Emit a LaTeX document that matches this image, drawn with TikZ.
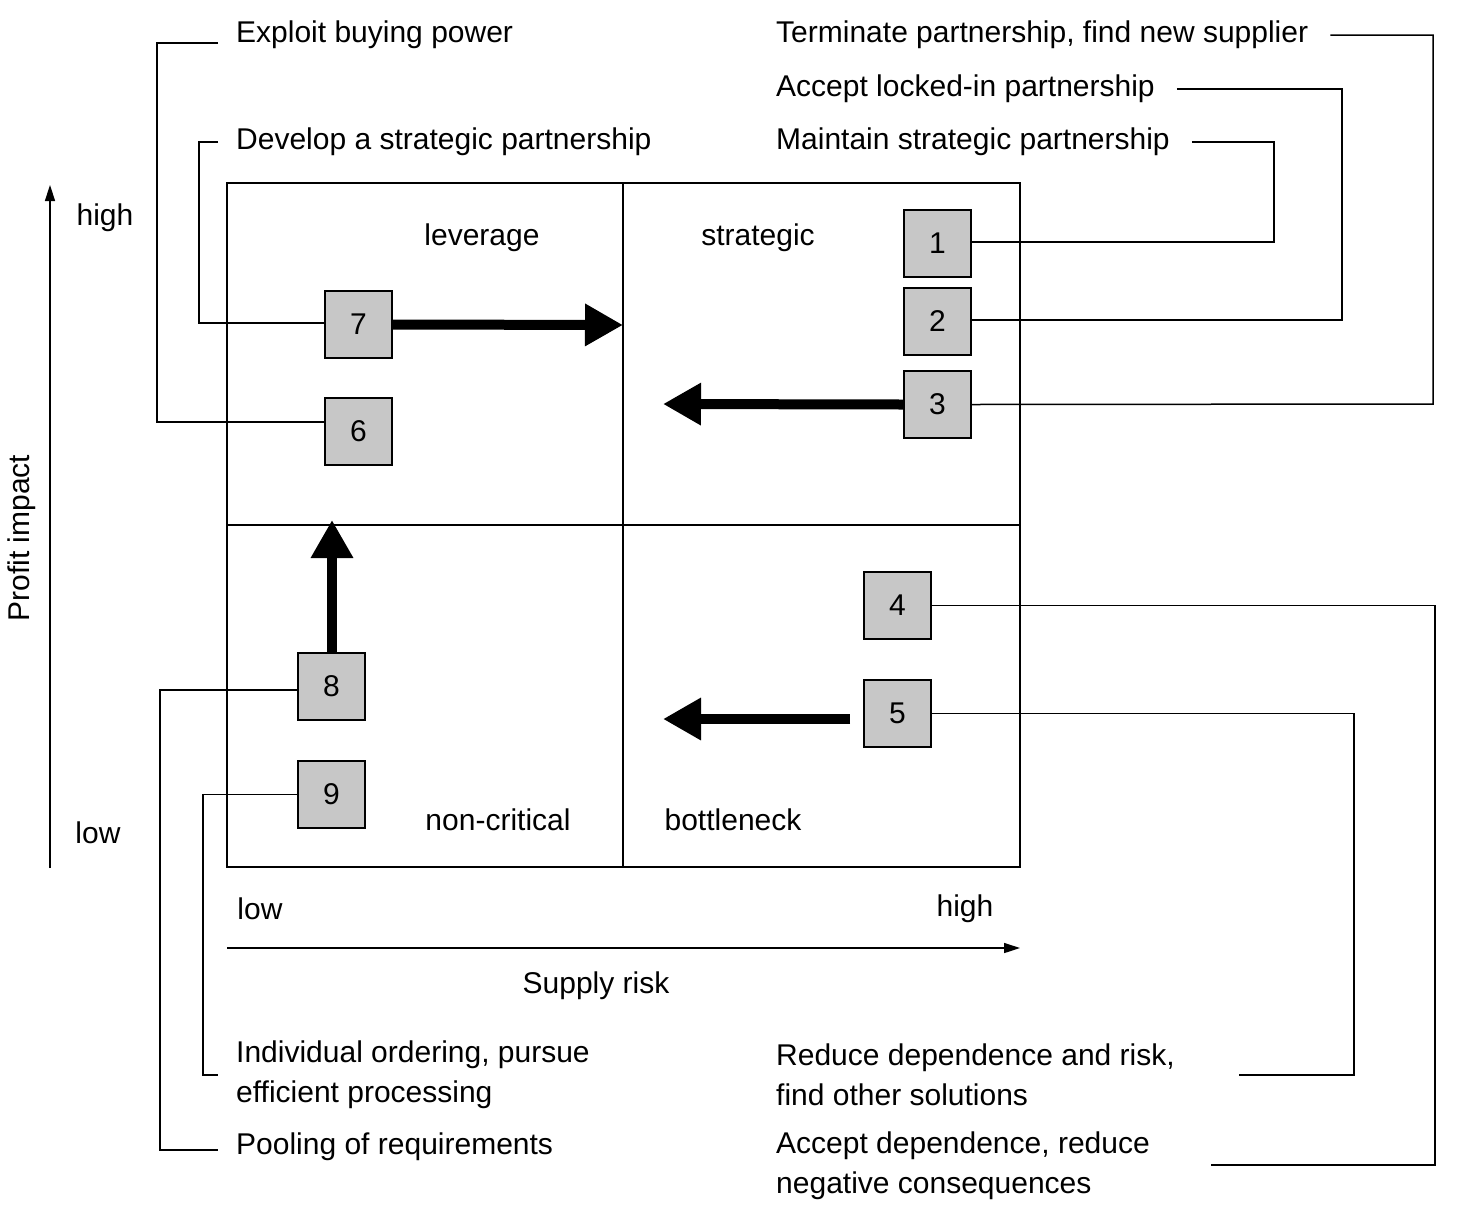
\documentclass[tikz,border=0pt]{standalone}
\usepackage{fontspec}
\setmainfont{Liberation Sans}
\usetikzlibrary{arrows.meta}
\begin{document}
\begin{tikzpicture}[x=1pt,y=-1pt,
  every node/.style={font=\fontsize{30}{40}\selectfont,inner sep=0pt},
  thin line/.style={line width=1.5pt},
  numbox/.style={draw,line width=1.5pt,fill=black!22,minimum width=67pt,minimum height=67pt,text depth=-14pt},
  bigarrow/.style={line width=10pt,-{Triangle[length=38pt,width=40pt]}},
  lbl/.style={anchor=west,align=left}]
\useasboundingbox (0,0) rectangle (1463,1208);
% grid
\draw[thin line] (227,183) rectangle (1020,867);
\draw[thin line] (623,183) -- (623,867);
\draw[thin line] (227,525) -- (1020,525);
% boxes
\node[numbox] (b1) at (937.5,243.5) {1};
\node[numbox] (b2) at (937.5,321.5) {2};
\node[numbox] (b3) at (937.5,404.5) {3};
\node[numbox] (b7) at (358.5,324.5) {7};
\node[numbox] (b6) at (358.5,431.5) {6};
\node[numbox] (b4) at (897.5,605.5) {4};
\node[numbox] (b5) at (897.5,713.5) {5};
\node[numbox] (b8) at (331.5,686.5) {8};
\node[numbox] (b9) at (331.5,794.5) {9};
% quadrant labels
\node (lev) at (482,238) {leverage};
\node (str) at (758,238) {strategic};
\node (nc) at (498,820) {non-critical};
\node (bn) at (733,820) {bottleneck};
% axes
\coordinate (ya) at (50,868); \coordinate (yb) at (50,185);
\draw[thin line,-{Triangle[length=16pt,width=10pt]}] (ya) -- (yb);
\coordinate (xa) at (227,948); \coordinate (xb) at (1020,948);
\draw[thin line,-{Triangle[length=16pt,width=10pt]}] (xa) -- (xb);
\node (yh) at (105,218) {high};
\node (yl) at (98,833) {low};
\node (xl) at (260,909) {low};
\node (xh) at (965,909) {high};
\node (sr) at (596,986) {Supply risk};
\node[rotate=90] (pi) at (22,538) {Profit impact};
% big arrows
\coordinate (a7e) at (623,325);
\draw[bigarrow] (b7.east) -- (a7e);
\coordinate (a3e) at (663,404);
\draw[bigarrow] (b3.west) -- (a3e);
\coordinate (a5s) at (850,719); \coordinate (a5e) at (663,719);
\draw[bigarrow] (a5s) -- (a5e);
\coordinate (a8e) at (332,520);
\draw[bigarrow] (b8.north -| a8e) -- (a8e);
% strategy texts
\node[lbl] (t6) at (236,35) {Exploit buying power};
\node[lbl] (t7) at (236,142) {Develop a strategic partnership};
\node[lbl] (t3) at (776,35) {Terminate partnership, find new supplier};
\node[lbl] (t2) at (776,89) {Accept locked-in partnership};
\node[lbl] (t1) at (776,142) {Maintain strategic partnership};
\node[lbl] (t9) at (236,1075) {Individual ordering, pursue\\efficient processing};
\node[lbl] (t8) at (236,1147) {Pooling of requirements};
\node[lbl] (t5) at (776,1075) {Reduce dependence and risk,\\find other solutions};
\node[lbl] (t4) at (776,1166) {Accept dependence, reduce\\negative consequences};
% connectors
\draw[thin line] (t6.west)++(-18,8) -- (157,43) -- (157,422) -- (b6.west |- 0,422);
\draw[thin line] (t7.west)++(-18,0) -- (199,142) -- (199,323) -- (b7.west |- 0,323);
\draw[thin line] (t3.east)++(22,0) -- (1433,35) -- (1433,404) -- (b3.east);
\draw[thin line] (t2.east)++(22,0) -- (1342,89) -- (1342,320) -- (b2.east |- 0,320);
\draw[thin line] (t1.east)++(22,0) -- (1274,142) -- (1274,242) -- (b1.east |- 0,242);
\draw[thin line] (b4.east) -- (1435,605.5) -- (1435,1165) -- (1211,1165);
\draw[thin line] (b5.east) -- (1354,713.5) -- (1354,1075) -- (1239,1075);
\draw[thin line] (b8.west |- 0,690) -- (160,690) -- (160,1150) -- (218,1150);
\draw[thin line] (b9.west) -- (203,794.5) -- (203,1075) -- (218,1075);
\end{tikzpicture}
\end{document}
